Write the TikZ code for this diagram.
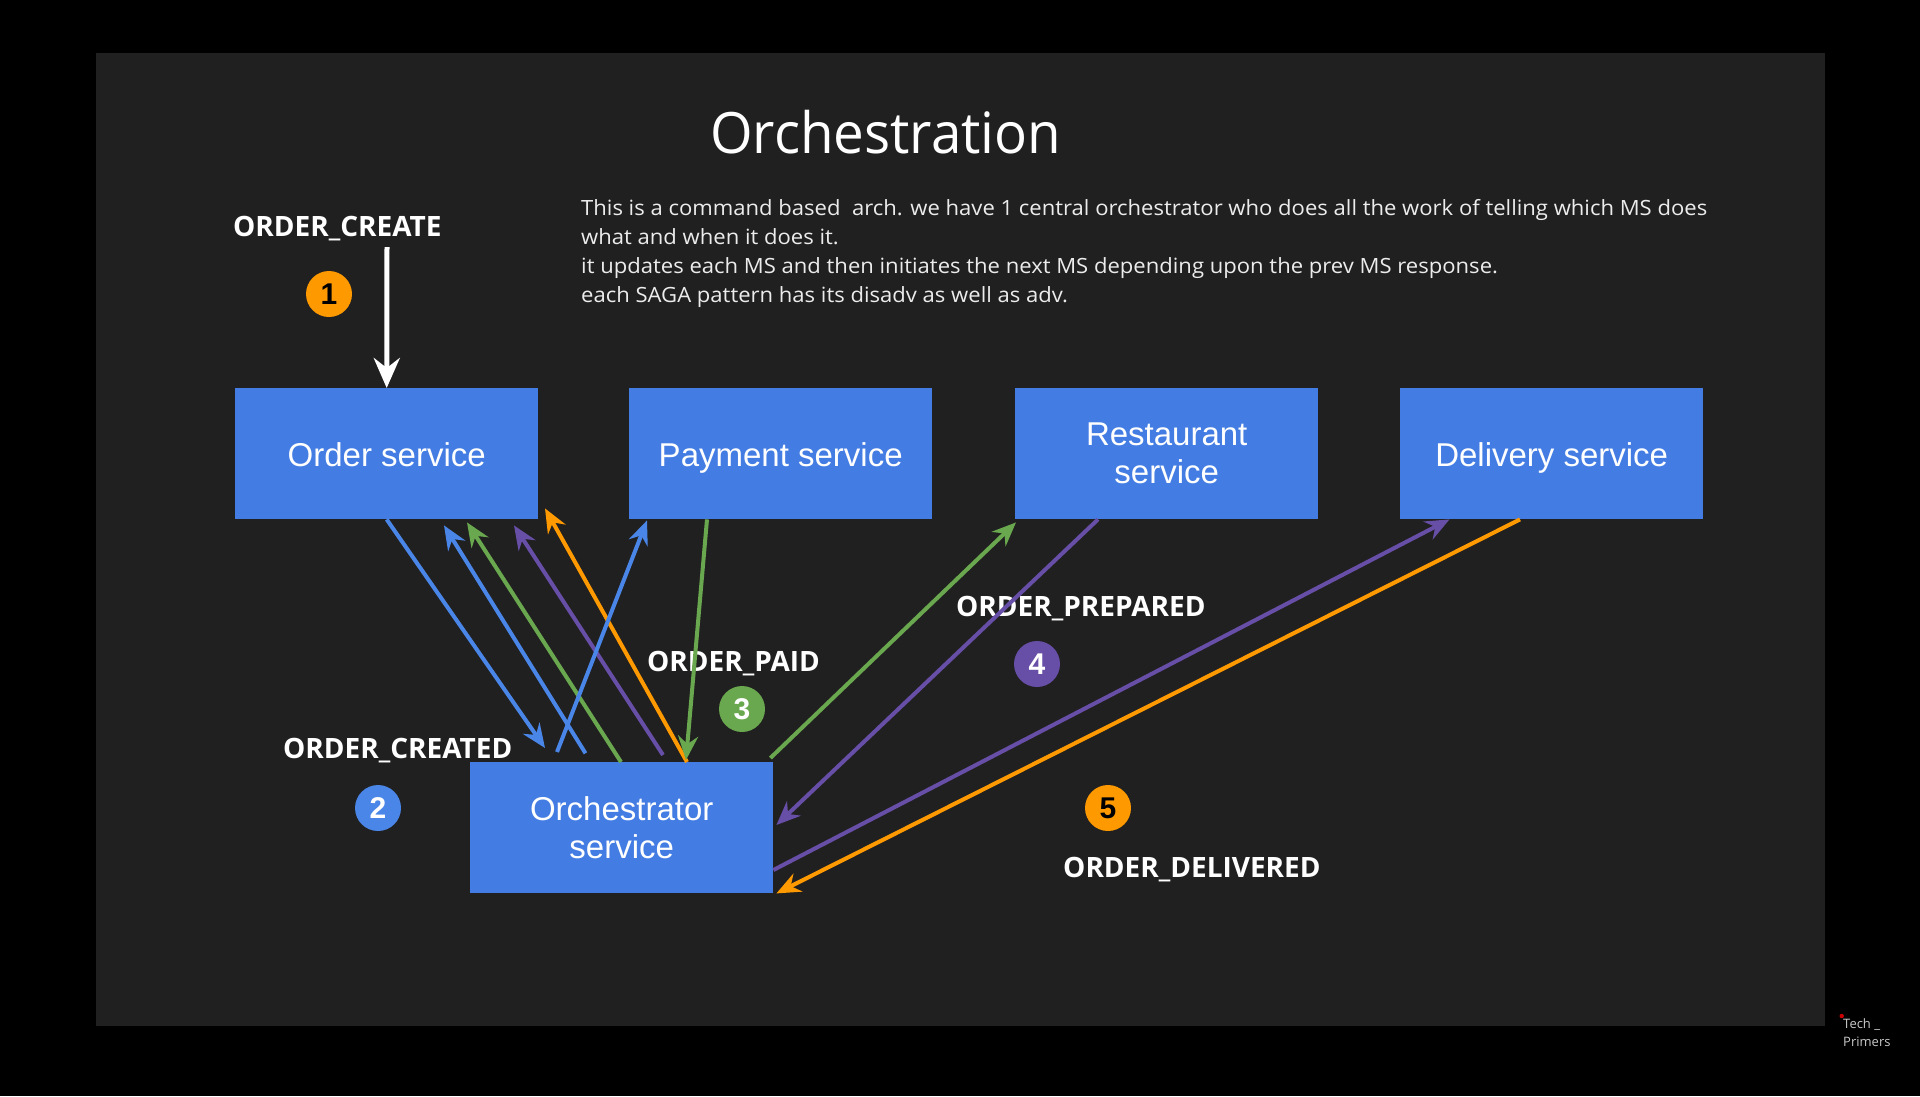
\documentclass[tikz,border=0pt]{standalone}
\usepackage{fontspec}
\setmainfont{Open Sans}
\newfontfamily\boxfont{Liberation Sans}
\newfontfamily\descfont{Open Sans}[FakeStretch=1.05]
\newfontfamily\titlefont{Open Sans}[FakeStretch=0.96]
\usetikzlibrary{arrows.meta,calc}
\definecolor{panelbg}{RGB}{32,32,32}
\definecolor{boxblue}{RGB}{67,124,227}
\definecolor{arblue}{RGB}{74,134,232}
\definecolor{argreen}{RGB}{106,168,79}
\definecolor{arpurple}{RGB}{103,78,167}
\definecolor{arorange}{RGB}{255,153,0}
\definecolor{bodytext}{RGB}{236,236,236}
\definecolor{wmgray}{RGB}{200,200,200}
\begin{document}
\begin{tikzpicture}[x=1pt,y=-1pt,
  svc/.style={fill=boxblue, draw=none, minimum width=303pt, minimum height=131pt, inner sep=0pt,
    text=white, font=\boxfont\fontsize{33}{38}\selectfont, align=center, anchor=north west},
  oneline/.style={text height=25pt, text depth=0pt},
  lab/.style={text=white, font=\bfseries\fontsize{28}{32}\selectfont, anchor=base west, inner sep=0pt},
  num/.style={circle, minimum size=46pt, inner sep=0pt, font=\boxfont\bfseries\fontsize{30}{30}\selectfont},
  desc/.style={text=bodytext, font=\descfont\fontsize{21}{29}\selectfont, anchor=base west, inner sep=0pt},
  flow/.style={line width=4pt, -{Stealth[length=24pt,width=20pt,inset=8pt]}},
  wm/.style={text=wmgray, font=\fontsize{13}{16}\selectfont, anchor=base west, inner sep=0pt}
]
% background and panel
\fill[black] (0,0) rectangle (1920,1096);
\useasboundingbox (0,0) rectangle (1920,1096);
\fill[panelbg] (95.5,52.7) rectangle (1824.5,1026);

% title and description
\node[text=white, font=\titlefont\fontsize{57}{60}\selectfont, anchor=base west, inner sep=0pt] (title) at (710,153) {Orchestration};
\node[desc] (d1) at (581,215) {This is a command based~ arch. we have 1 central orchestrator who does all the work of telling which MS does};
\node[desc] (d2) at (581,244) {what and when it does it.};
\node[desc] (d3) at (581,273) {it updates each MS and then initiates the next MS depending upon the prev MS response.};
\node[desc] (d4) at (581,302) {each SAGA pattern has its disadv as well as adv.};

% services
\node[svc, oneline] (order) at (235,388) {Order service};
\node[svc, oneline] (payment) at (629,388) {Payment service};
\node[svc] (rest) at (1015,388) {Restaurant\\service};
\node[svc, oneline] (delivery) at (1400,388) {Delivery service};
\node[svc] (orch) at (470,762) {Orchestrator\\service};

% labels
\node[lab] (lcreate) at (233,236.7) {ORDER\_CREATE};
\node[lab] (lcreated) at (283,758) {ORDER\_CREATED};
\node[lab] (lpaid) at (647,671.7) {ORDER\_PAID};
\node[lab] (lprepared) at (956,616) {ORDER\_PREPARED};
\node[lab] (ldelivered) at (1063,877.7) {ORDER\_DELIVERED};

% step numbers
\node[num, fill=arorange, text=black] (n1) at (329,294) {1};
\node[num, fill=arblue, text=white] (n2) at (378,808) {2};
\node[num, fill=argreen, text=white] (n3) at (742,709) {3};
\node[num, fill=arpurple, text=white] (n4) at (1037,664) {4};
\node[num, fill=arorange, text=black] (n5) at (1108,808) {5};

% incoming command
\coordinate (cstart) at (387,247);
\draw[line width=5pt, white, -{Stealth[length=30pt,width=26pt,inset=10pt]}] (cstart) -- (order.north);

% connectors
\draw[flow, arblue] (order.south) -- ([xshift=75pt,yshift=14pt]orch.north west);
\draw[flow, arblue] ([xshift=115.5pt,yshift=8.7pt]orch.north west) -- ([xshift=209pt,yshift=-6pt]order.south west);
\draw[flow, argreen] ([xshift=151pt]orch.north west) -- ([xshift=232pt,yshift=-3pt]order.south west);
\draw[flow, arpurple] ([xshift=193pt,yshift=7pt]orch.north west) -- ([xshift=279pt,yshift=-6pt]order.south west);
\draw[flow, arorange] ([xshift=217pt]orch.north west) -- ([xshift=310pt,yshift=11pt]order.south west);
\draw[flow, arblue] ([xshift=87pt,yshift=10pt]orch.north west) -- ([xshift=18pt,yshift=-1pt]payment.south west);
\draw[flow, argreen] ([xshift=78pt]payment.south west) -- ([xshift=216pt,yshift=2pt]orch.north west);
\draw[flow, argreen] ([xshift=-3pt,yshift=4pt]orch.north east) -- ([xshift=1pt,yshift=-3pt]rest.south west);
\draw[flow, arpurple] ([xshift=83pt]rest.south west) -- ([xshift=3pt,yshift=-63pt]orch.north east);
\draw[flow, arpurple] ([yshift=-108pt]orch.north east) -- ([xshift=49.5pt]delivery.south west);
\draw[flow, arorange] ([xshift=120pt]delivery.south west) -- ([xshift=3pt]orch.south east);

% watermark
\fill[red!80!black] (1841.7,1016) circle (2.2);
\node[wm] (wm1) at (1843,1028) {Tech \_};
\node[wm] (wm2) at (1843,1046.7) {Primers};
\end{tikzpicture}
\end{document}
